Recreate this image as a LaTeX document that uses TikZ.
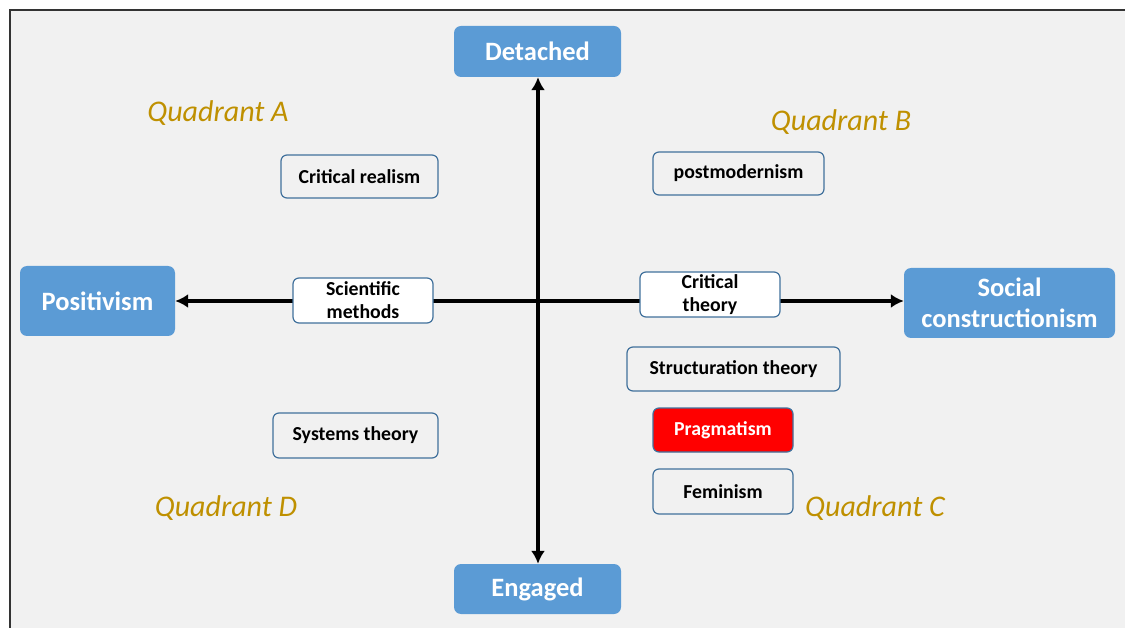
\documentclass[tikz,border=0pt]{standalone}
\usepackage{fontspec}
\setmainfont{Carlito}
\usetikzlibrary{arrows.meta}
\definecolor{pagebg}{HTML}{F1F1F1}
\definecolor{polblue}{HTML}{5B9BD5}
\definecolor{edgeblue}{HTML}{41719C}
\definecolor{quadgold}{HTML}{BF9000}
\definecolor{pragred}{HTML}{FF0000}
\tikzset{
  pole/.style={rectangle, rounded corners=7pt, fill=polblue, draw=none,
    text=white, font=\fontsize{26.5}{31}\selectfont\bfseries, align=center},
  theory/.style={rectangle, rounded corners=6pt, draw=edgeblue, line width=1.2pt,
    text=black, font=\fontsize{19.8}{23}\selectfont\bfseries, align=center,
    inner sep=0pt},
  quadlabel/.style={text=quadgold, font=\fontsize{30}{34}\selectfont\itshape},
  axis/.style={line width=3.4pt, -{Latex[length=13pt,width=14pt]}}
}
\begin{document}
\begin{tikzpicture}[x=1pt, y=-1pt]
  % canvas and frame
  \useasboundingbox (0,0) rectangle (1125,628);
  \fill[white] (0,0) rectangle (1125,628);
  \fill[pagebg] (10,10) rectangle (1125,628);
  \draw[line width=1.8pt, black!80] (10,628) -- (10,10) -- (1125,10);

  % poles of the two axes
  \node[pole, minimum width=167pt, minimum height=51pt] (det) at (537.5,51.5) {Detached};
  \node[pole, minimum width=167pt, minimum height=50pt] (eng) at (537.5,589) {Engaged};
  \node[pole, minimum width=155pt, minimum height=70pt] (pos) at (97.5,301) {Positivism};
  \node[pole, minimum width=211pt, minimum height=70pt] (soc) at (1009.5,303) {Social\\constructionism};

  % crossing point of the axes
  \coordinate (o) at (538,301);

  % axes
  \draw[axis] (o) -- (det.south -| o);
  \draw[axis] (o) -- (eng.north -| o);
  \draw[axis] (o) -- (pos.east |- o);
  \draw[axis] (o) -- (soc.west |- o);

  % boxes sitting on the horizontal axis
  \node[theory, fill=white, minimum width=140pt, minimum height=45pt] (sci) at (363,300.5) {Scientific\\methods};
  \node[theory, fill=white, minimum width=140pt, minimum height=45pt] (crit) at (710,294.5) {Critical\\theory};

  % positions in the quadrants
  \node[theory, minimum width=157pt, minimum height=43pt] (real) at (359.5,176.5) {Critical realism};
  \node[theory, minimum width=171pt, minimum height=43pt] (post) at (738.5,173.5) {postmodernism};
  \node[theory, minimum width=213pt, minimum height=44pt] (struct) at (733.5,369) {Structuration theory};
  \node[theory, fill=pragred, text=white, minimum width=140pt, minimum height=44pt] (prag) at (723,430) {Pragmatism};
  \node[theory, minimum width=140pt, minimum height=45pt] (fem) at (723,491.5) {Feminism};
  \node[theory, minimum width=165pt, minimum height=45pt] (sys) at (355.5,435.5) {Systems theory};

  % quadrant names
  \node[quadlabel] (qa) at (218,113) {Quadrant A};
  \node[quadlabel] (qb) at (841,122) {Quadrant B};
  \node[quadlabel] (qc) at (875,508) {Quadrant C};
  \node[quadlabel] (qd) at (226,508) {Quadrant D};
\end{tikzpicture}
\end{document}
